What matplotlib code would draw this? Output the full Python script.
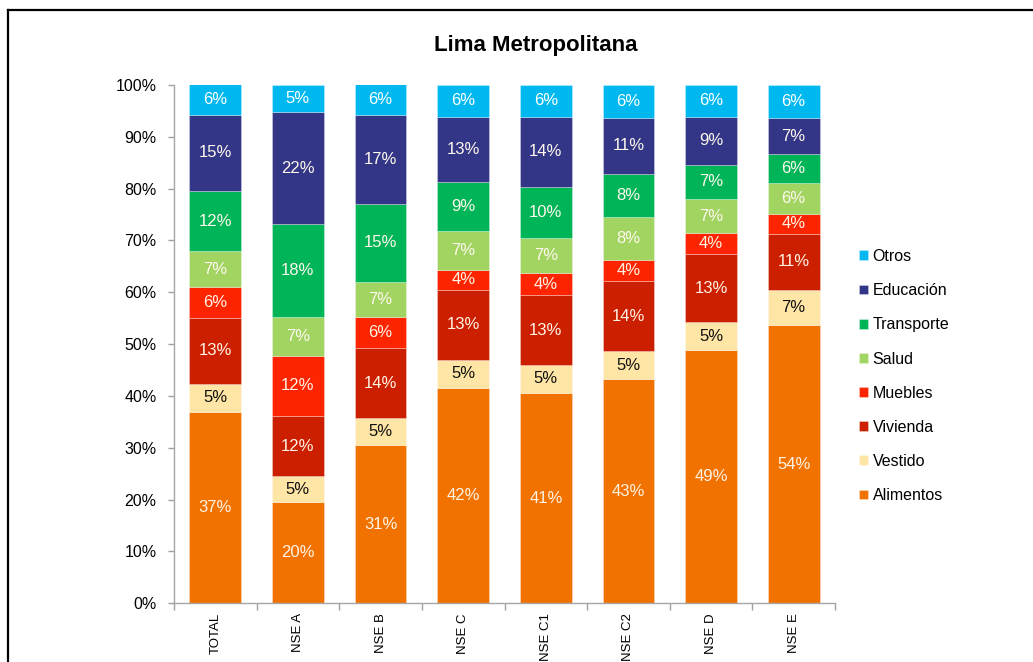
import matplotlib
matplotlib.use("Agg")
import matplotlib.pyplot as plt
from matplotlib.lines import Line2D
import numpy as np

plt.rcParams['font.family'] = ['Liberation Sans Narrow', 'Liberation Sans', 'DejaVu Sans']

categories = ["TOTAL", "NSE A", "NSE B", "NSE C", "NSE C1", "NSE C2", "NSE D", "NSE E"]
alimentos  = [37.0, 19.6, 30.6, 41.6, 40.6, 43.3, 48.9, 53.7]
vestido    = [5.3, 4.9, 5.1, 5.4, 5.4, 5.3, 5.3, 6.8]
vivienda   = [12.8, 11.6, 13.6, 13.4, 13.4, 13.6, 13.2, 10.8]
muebles    = [5.9, 11.7, 6.0, 4.0, 4.3, 4.0, 4.0, 3.9]
salud      = [6.9, 7.4, 6.7, 7.4, 6.7, 8.3, 6.6, 5.8]
transporte = [11.7, 17.9, 15.1, 9.4, 9.9, 8.4, 6.6, 5.6]
educacion  = [14.6, 21.6, 17.1, 12.7, 13.6, 10.7, 9.3, 7.0]
otros      = [5.9, 5.3, 5.9, 6.1, 6.1, 6.4, 6.1, 6.4]

series_names = ["Alimentos", "Vestido", "Vivienda", "Muebles", "Salud", "Transporte", "Educación", "Otros"]
series_vals = [alimentos, vestido, vivienda, muebles, salud, transporte, educacion, otros]
colors = ["#F27200", "#FFE6A6", "#CC1F00", "#FF2400", "#A2D462", "#00B458", "#333686", "#00B8F0"]
label_colors = ["#FFF4E6", "#111111", "#FFF4E6", "#FFF4E6", "#FFF8EE", "#FFF8EE", "#FFF8EE", "#FFFFFF"]

W, H = 1033, 662
fig = plt.figure(figsize=(W / 100, H / 100), dpi=100)
ax = fig.add_axes([174 / W, 1 - 603.3 / H, (835 - 174) / W, (603.3 - 85) / H])

x = np.arange(len(categories))
bottom = np.zeros(len(categories))
handles = []
for name, vals, col, lc in zip(series_names, series_vals, colors, label_colors):
    vals = np.array(vals)
    bars = ax.bar(x, vals, width=0.625, bottom=bottom, color=col,
                  edgecolor=(1, 1, 1, 0.35), linewidth=0.6, label=name)
    for xi, b, v in zip(x, bottom, vals):
        ax.text(xi, b + v / 2, f"{v:.0f}%", ha="center", va="center",
                fontsize=12, color=lc)
    bottom += vals
    handles.append(bars)

ax.set_xlim(-0.5, len(categories) - 0.5)
ax.set_ylim(0, 100)
ax.set_yticks(np.arange(0, 101, 10))
ax.set_yticklabels([f"{v}%" for v in range(0, 101, 10)], fontsize=11.5)
ax.set_xticks(x)
ax.set_xticklabels(categories, rotation=90, fontsize=9.5, va="top")
ax.set_xticks(np.arange(-0.5, len(categories), 1.0), minor=True)
ax.tick_params(axis="x", which="major", length=0, pad=7)
ax.tick_params(axis="x", which="minor", length=5, color="#A0A0A0", width=1)
ax.tick_params(axis="y", length=4, color="#A0A0A0", width=1, pad=8.6)
for s in ["top", "right"]:
    ax.spines[s].set_visible(False)
for s in ["left", "bottom"]:
    ax.spines[s].set_color("#A6A6A6")
    ax.spines[s].set_linewidth(1.0)

fig.text(536 / W, 1 - 46 / H, "Lima Metropolitana", ha="center", va="center",
         fontsize=16, fontweight="bold")

leg = fig.legend(handles[::-1], series_names[::-1], loc="upper left",
                 bbox_to_anchor=(859 / W, 1 - 249 / H), frameon=False,
                 fontsize=11.5, handlelength=0.56, handleheight=0.56,
                 handletextpad=0.3, labelspacing=1.2, borderpad=0, borderaxespad=0)

# figure frame (top and left lines)
fig.add_artist(Line2D([8 / W, 8 / W], [0, 1 - 10 / H], transform=fig.transFigure,
                      color="black", linewidth=1.6))
fig.add_artist(Line2D([8 / W, 1], [1 - 10 / H, 1 - 10 / H], transform=fig.transFigure,
                      color="black", linewidth=1.6))

fig.savefig("out.png", dpi=100)
